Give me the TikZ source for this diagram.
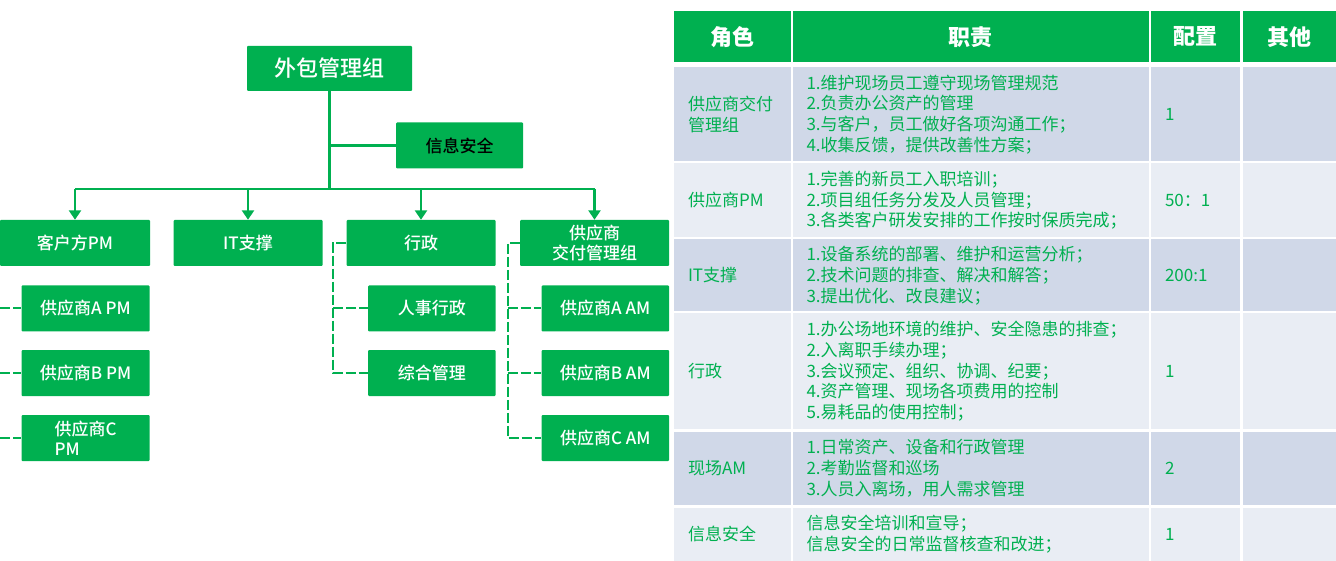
\documentclass[tikz,border=0pt]{standalone}
\usepackage{fontspec}
\setmainfont{Noto Sans CJK SC}
\newfontfamily\medfont{Noto Sans CJK SC}[UprightFont=* Medium]
\usetikzlibrary{arrows.meta}
\definecolor{G}{HTML}{00B050}
\definecolor{RowD}{HTML}{D0D8E8}
\definecolor{RowL}{HTML}{E9EDF4}
\tikzset{
 obox/.style={draw=none, fill=G, text=white, rounded corners=1pt, inner sep=0pt, font=\medfont\fontsize{17}{20}\selectfont, align=center},
 conn/.style={draw=G, line width=2.6pt},
 arr/.style={conn, -{Triangle[width=12pt,length=9.5pt]}},
 dsh/.style={draw=G, line width=2pt, dash pattern=on 10pt off 3pt},
 cellbox/.style={draw=none, inner sep=0pt},
 ttext/.style={text=G, inner sep=0pt, align=left, anchor=west, font=\fontsize{17}{20.7}\selectfont},
 htext/.style={text=white, inner sep=0pt, font=\bfseries\fontsize{22}{26}\selectfont}
}
\newcommand\mkcell[6]{\node[cellbox, fill=#6, minimum width={#4-#2}, minimum height={#5-#3}] (#1) at ({(#2+#4)/2},{(#3+#5)/2}) {};}
\begin{document}
\begin{tikzpicture}[x=1pt, y=-1pt]
\useasboundingbox (0,0) rectangle (1336,561);
% ---------- org chart ----------
\node[obox, minimum width=165, minimum height=45, font=\medfont\fontsize{22}{26}\selectfont] (top) at (329.5,68.5) {外包管理组};
\node[obox, minimum width=127, minimum height=46, text=black] (info) at (459.5,145.5) {信息安全};
\node[obox, minimum width=150, minimum height=46] (kh) at (75,243) {客户方PM};
\node[obox, minimum width=149, minimum height=46] (it) at (248,243) {IT支撑};
\node[obox, minimum width=149, minimum height=46] (xz) at (421,243) {行政};
\node[obox, minimum width=149, minimum height=46] (gys) at (594.5,243) {供应商\\交付管理组};
\node[obox, minimum width=128, minimum height=46] (pa) at (85.5,308.5) {供应商A PM};
\node[obox, minimum width=128, minimum height=46] (pb) at (85.5,373) {供应商B PM};
\node[obox, minimum width=128, minimum height=46, align=left] (pc) at (85.5,438) {供应商C\\PM};
\node[obox, minimum width=127.5, minimum height=46] (rs) at (431.75,308.5) {人事行政};
\node[obox, minimum width=127.5, minimum height=46] (zh) at (431.75,373) {综合管理};
\node[obox, minimum width=127.5, minimum height=46] (aa) at (605.25,308.5) {供应商A AM};
\node[obox, minimum width=127.5, minimum height=46] (ab) at (605.25,373) {供应商B AM};
\node[obox, minimum width=127.5, minimum height=46] (ac) at (605.25,438) {供应商C AM};
\coordinate (bus) at (330,189);
\coordinate (lft) at (0,0);
\coordinate (xv) at (333,0);
\coordinate (gv) at (507.7,0);
\draw[conn] (top.south) -- (top.south |- bus);
\draw[conn] (top.south |- info.west) -- (info.west);
\draw[conn] (kh.north |- bus) -- (gys.north |- bus);
\draw[arr] (kh.north |- bus) -- (kh.north);
\draw[arr] (it.north |- bus) -- (it.north);
\draw[arr] (xz.north |- bus) -- (xz.north);
\draw[arr] (gys.north |- bus) -- (gys.north);
\draw[dsh] (pa.west -| lft) -- (pa.west);
\draw[dsh] (pb.west -| lft) -- (pb.west);
\draw[dsh] (pc.west -| lft) -- (pc.west);
\draw[dsh] (xz.west) -- (xz.west -| xv) -- (zh.west -| xv) -- (zh.west);
\draw[dsh] (rs.west -| xv) -- (rs.west);
\draw[dsh] (gys.west) -- (gys.west -| gv) -- (ac.west -| gv) -- (ac.west);
\draw[dsh] (aa.west -| gv) -- (aa.west);
\draw[dsh] (ab.west -| gv) -- (ab.west);
% ---------- table ----------
\mkcell{h1}{674}{11}{790.5}{62.5}{G}
\mkcell{h2}{793}{11}{1148.5}{62.5}{G}
\mkcell{h3}{1151}{11}{1240}{62.5}{G}
\mkcell{h4}{1243}{11}{1336}{62.5}{G}
\node[htext] at (h1) {角色};
\node[htext] at (h2) {职责};
\node[htext] at (h3) {配置};
\node[htext] at (h4) {其他};
% rows
\mkcell{a1}{674}{67.5}{790.5}{161}{RowD}
\mkcell{b1}{793}{67.5}{1148.5}{161}{RowD}
\mkcell{c1}{1151}{67.5}{1240}{161}{RowD}
\mkcell{d1}{1243}{67.5}{1336}{161}{RowD}
\mkcell{a2}{674}{163.5}{790.5}{237}{RowL}
\mkcell{b2}{793}{163.5}{1148.5}{237}{RowL}
\mkcell{c2}{1151}{163.5}{1240}{237}{RowL}
\mkcell{d2}{1243}{163.5}{1336}{237}{RowL}
\mkcell{a3}{674}{239.5}{790.5}{311.5}{RowD}
\mkcell{b3}{793}{239.5}{1148.5}{311.5}{RowD}
\mkcell{c3}{1151}{239.5}{1240}{311.5}{RowD}
\mkcell{d3}{1243}{239.5}{1336}{311.5}{RowD}
\mkcell{a4}{674}{313.5}{790.5}{429}{RowL}
\mkcell{b4}{793}{313.5}{1148.5}{429}{RowL}
\mkcell{c4}{1151}{313.5}{1240}{429}{RowL}
\mkcell{d4}{1243}{313.5}{1336}{429}{RowL}
\mkcell{a5}{674}{431.5}{790.5}{505}{RowD}
\mkcell{b5}{793}{431.5}{1148.5}{505}{RowD}
\mkcell{c5}{1151}{431.5}{1240}{505}{RowD}
\mkcell{d5}{1243}{431.5}{1336}{505}{RowD}
\mkcell{a6}{674}{507.5}{790.5}{561}{RowL}
\mkcell{b6}{793}{507.5}{1148.5}{561}{RowL}
\mkcell{c6}{1151}{507.5}{1240}{561}{RowL}
\mkcell{d6}{1243}{507.5}{1336}{561}{RowL}
% texts
\node[ttext] (ta1) at ([xshift=14pt]a1.west) {供应商交付\\管理组};
\node[ttext] (tb1) at ([xshift=13.5pt]b1.west) {1.维护现场员工遵守现场管理规范\\2.负责办公资产的管理\\3.与客户，员工做好各项沟通工作；\\4.收集反馈，提供改善性方案；};
\node[ttext] (tc1) at ([xshift=14pt]c1.west) {1};
\node[ttext] (ta2) at ([xshift=14pt]a2.west) {供应商PM};
\node[ttext] (tb2) at ([xshift=13.5pt]b2.west) {1.完善的新员工入职培训；\\2.项目组任务分发及人员管理；\\3.各类客户研发安排的工作按时保质完成；};
\node[ttext] (tc2) at ([xshift=14pt]c2.west) {50：1};
\node[ttext] (ta3) at ([xshift=14pt]a3.west) {IT支撑};
\node[ttext] (tb3) at ([xshift=13.5pt]b3.west) {1.设备系统的部署、维护和运营分析；\\2.技术问题的排查、解决和解答；\\3.提出优化、改良建议；};
\node[ttext] (tc3) at ([xshift=14pt]c3.west) {200:1};
\node[ttext] (ta4) at ([xshift=14pt]a4.west) {行政};
\node[ttext] (tb4) at ([xshift=13.5pt]b4.west) {1.办公场地环境的维护、安全隐患的排查；\\2.入离职手续办理；\\3.会议预定、组织、协调、纪要；\\4.资产管理、现场各项费用的控制\\5.易耗品的使用控制；};
\node[ttext] (tc4) at ([xshift=14pt]c4.west) {1};
\node[ttext] (ta5) at ([xshift=14pt]a5.west) {现场AM};
\node[ttext] (tb5) at ([xshift=13.5pt]b5.west) {1.日常资产、设备和行政管理\\2.考勤监督和巡场\\3.人员入离场，用人需求管理};
\node[ttext] (tc5) at ([xshift=14pt]c5.west) {2};
\node[ttext] (ta6) at ([xshift=14pt]a6.west) {信息安全};
\node[ttext] (tb6) at ([xshift=13.5pt]b6.west) {信息安全培训和宣导；\\信息安全的日常监督核查和改进；};
\node[ttext] (tc6) at ([xshift=14pt]c6.west) {1};
\end{tikzpicture}
\end{document}
